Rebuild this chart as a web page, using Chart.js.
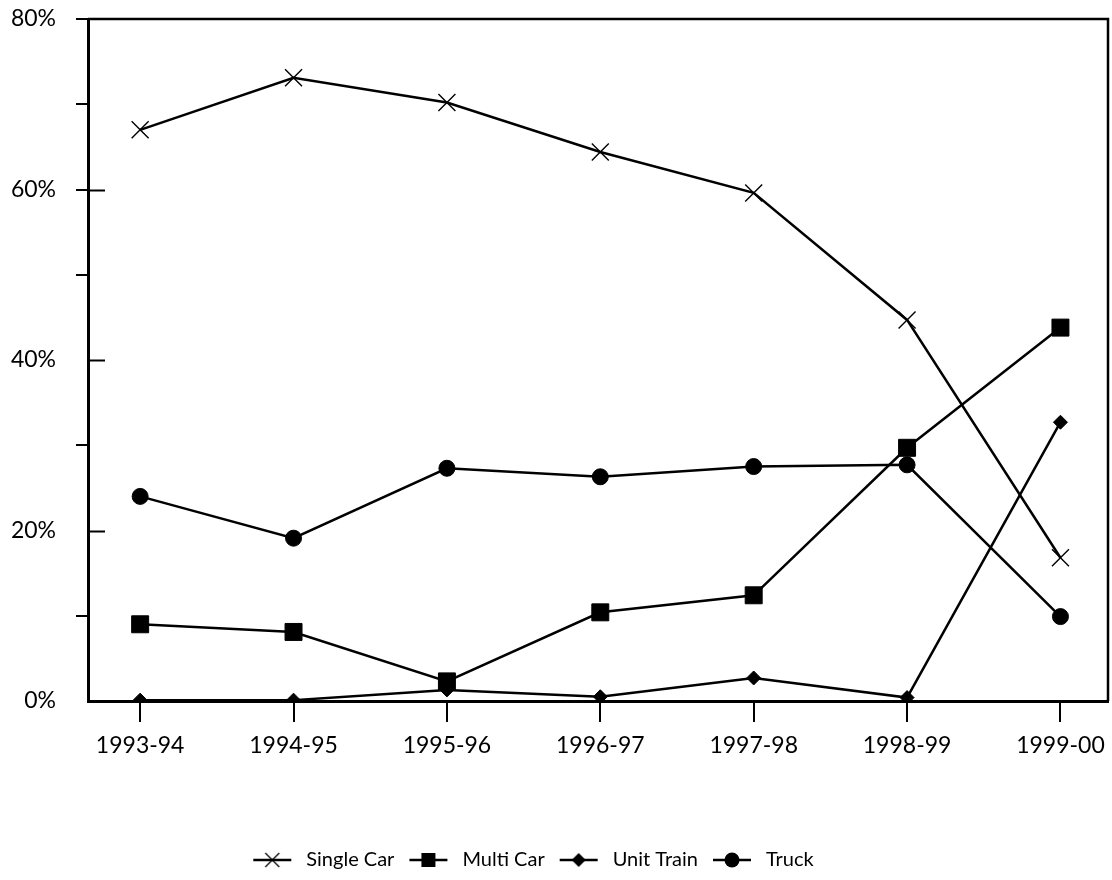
<!DOCTYPE html>
<html>
<head>
<meta charset="utf-8">
<script src="https://cdn.jsdelivr.net/npm/chart.js@4/dist/chart.umd.min.js"></script>
<style>
  html, body { margin: 0; padding: 0; background: #fff; }
  #wrap { width: 1112px; height: 880px; position: relative; }
</style>
</head>
<body>
<div id="wrap"><canvas id="c"></canvas></div>
<script>
// Shipment mode shares by season
const seasons = ['1993-94', '1994-95', '1995-96', '1996-97', '1997-98', '1998-99', '1999-00'];
const singleCar = [67.0, 73.1, 70.2, 64.4, 59.6, 44.7, 16.8];
const multiCar  = [9.0, 8.1, 2.3, 10.4, 12.4, 29.7, 43.8];
const unitTrain = [0.1, 0.1, 1.3, 0.5, 2.7, 0.4, 32.7];
const truck     = [24.0, 19.1, 27.3, 26.3, 27.5, 27.7, 9.9];
const yTickLabels = ['0%', '20%', '40%', '60%', '80%'];

const FONT = 'Lato, "Open Sans", sans-serif';
const INK = '#000';

function points(values) {
  return values.map((v, i) => ({ x: i, y: v }));
}

// Small line-plus-marker swatches for the legend
function swatch(kind) {
  const w = 48, h = 22;
  const cv = document.createElement('canvas');
  cv.width = w; cv.height = h;
  const g = cv.getContext('2d');
  const cx = w / 2, cy = h / 2;
  g.strokeStyle = INK; g.fillStyle = INK;
  g.lineWidth = 2.5;
  g.beginPath(); g.moveTo(5, cy); g.lineTo(w - 5, cy); g.stroke();
  if (kind === 'cross') {
    g.lineWidth = 1.3;
    const s = 7;
    g.beginPath();
    g.moveTo(cx - s, cy - s); g.lineTo(cx + s, cy + s);
    g.moveTo(cx + s, cy - s); g.lineTo(cx - s, cy + s);
    g.stroke();
  } else if (kind === 'square') {
    g.fillRect(cx - 7, cy - 7, 14, 14);
  } else if (kind === 'diamond') {
    g.beginPath();
    g.moveTo(cx, cy - 7); g.lineTo(cx + 7, cy); g.lineTo(cx, cy + 7); g.lineTo(cx - 7, cy);
    g.closePath(); g.fill();
  } else {
    g.beginPath(); g.arc(cx, cy, 7.5, 0, Math.PI * 2); g.fill();
  }
  return cv;
}

const swatches = [swatch('cross'), swatch('square'), swatch('diamond'), swatch('circle')];

function series(label, values, style, radius, borderW) {
  return {
    label,
    data: points(values),
    borderColor: INK,
    backgroundColor: INK,
    borderWidth: 2.5,
    pointStyle: style,
    pointRadius: radius,
    pointHoverRadius: radius,
    pointBorderWidth: borderW,
    pointBackgroundColor: INK,
    pointBorderColor: INK,
    tension: 0
  };
}

// Frame around the plot plus the inward major tick marks on the value axis
const framePlugin = {
  id: 'frame',
  afterLayout(chart) {
    // legend row sits a little left of the page centre
    const lg = chart.legend;
    if (lg) { lg.left -= 23; lg.right -= 23; }
  },
  afterDraw(chart) {
    const { ctx, chartArea: a } = chart;
    const y = chart.scales.y;
    ctx.save();
    ctx.strokeStyle = INK;
    ctx.lineWidth = 2.5;
    ctx.beginPath();
    ctx.moveTo(a.left, a.top); ctx.lineTo(a.right, a.top); ctx.lineTo(a.right, a.bottom);
    ctx.stroke();
    ctx.lineWidth = 2;
    [20, 40, 60].forEach(v => {
      const py = Math.round(y.getPixelForValue(v)) + 0.5;
      ctx.beginPath(); ctx.moveTo(a.left, py); ctx.lineTo(a.left + 17, py); ctx.stroke();
    });
    ctx.restore();
  }
};

new Chart(document.getElementById('c'), {
  type: 'line',
  data: {
    datasets: [
      series('Single Car', singleCar, 'crossRot', 12, 1.4),
      series('Multi Car', multiCar, 'rect', 12, 1),
      series('Unit Train', unitTrain, 'rectRot', 7, 1),
      series('Truck', truck, 'circle', 8, 1)
    ]
  },
  options: {
    responsive: true,
    maintainAspectRatio: false,
    animation: false,
    layout: { autoPadding: false, padding: { top: 19, right: 4, left: 0, bottom: 0 } },
    plugins: {
      tooltip: { enabled: false },
      title: { display: false },
      legend: {
        position: 'bottom',
        labels: {
          color: INK,
          font: { family: FONT, size: 20 },
          usePointStyle: true,
          pointStyleWidth: 48,
          padding: 10,
          generateLabels(chart) {
            const items = Chart.defaults.plugins.legend.labels.generateLabels(chart);
            items.forEach((it, i) => { it.pointStyle = swatches[i]; });
            return items;
          }
        }
      }
    },
    scales: {
      x: {
        type: 'linear',
        min: -0.34,
        max: 6.31,
        border: { color: INK, width: 3 },
        grid: { drawOnChartArea: false, drawTicks: true, tickLength: 21, color: INK, lineWidth: 2 },
        ticks: {
          stepSize: 1,
          includeBounds: false,
          color: INK,
          padding: 10,
          font: { family: FONT, size: 23 },
          callback: (v) => seasons[v] ?? ''
        },
        afterFit(scale) {
          scale.height = 139;
          scale.paddingLeft = 0;
          scale.paddingRight = 0;
        }
      },
      y: {
        min: 0,
        max: 80,
        border: { color: INK, width: 3 },
        grid: {
          drawOnChartArea: false,
          drawTicks: true,
          tickLength: 12,
          lineWidth: 2,
          color: (c) => {
            const v = c.tick ? c.tick.value : 0;
            return (v === 0 || v === 20 || v === 40) ? 'rgba(0,0,0,0)' : INK;
          }
        },
        ticks: {
          stepSize: 10,
          color: INK,
          padding: 20,
          font: { family: FONT, size: 23 },
          callback: (v) => (v % 20 === 0 ? yTickLabels[v / 20] : '')
        },
        afterFit(scale) {
          scale.width = 88;
          scale.paddingTop = 0;
          scale.paddingBottom = 0;
        }
      }
    }
  },
  plugins: [framePlugin]
});
</script>
</body>
</html>
